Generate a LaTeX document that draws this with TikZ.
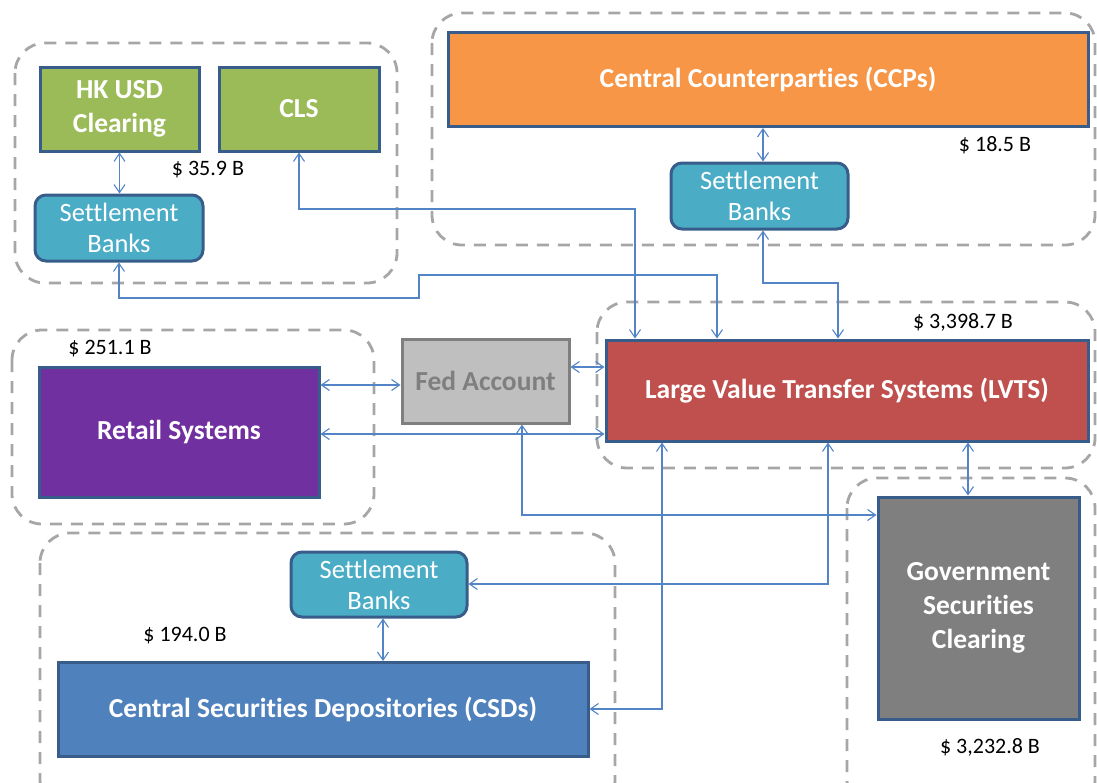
\documentclass[tikz,border=0pt]{standalone}
\usepackage{fontspec}
\setmainfont{Carlito}[Ligatures=NoCommon]
\usetikzlibrary{arrows.meta}
\definecolor{cgreen}{HTML}{9BBB59}
\definecolor{corange}{HTML}{F79646}
\definecolor{cteal}{HTML}{4BACC6}
\definecolor{cred}{HTML}{C0504D}
\definecolor{cpurple}{HTML}{7030A0}
\definecolor{cfed}{HTML}{BFBFBF}
\definecolor{cfedtxt}{HTML}{7F7F7F}
\definecolor{cgov}{HTML}{7F7F7F}
\definecolor{ccsd}{HTML}{4F81BD}
\definecolor{cborder}{HTML}{385D8A}
\definecolor{cconn}{HTML}{5284C6}
\definecolor{cdash}{HTML}{A6A6A6}
\tikzset{
  sysbox/.style={draw=cborder, line width=3pt, text=white, align=center,
    font=\fontsize{27.5}{34}\selectfont\bfseries, inner sep=0pt},
  bankbox/.style={draw=cborder, line width=3pt, fill=cteal, text=white, align=center,
    rounded corners=11pt, font=\fontsize{26.5}{31}\selectfont, inner sep=0pt},
  grp/.style={draw=cdash, line width=2.8pt, dash pattern=on 12pt off 9pt, rounded corners=30pt},
  conn/.style={draw=cconn, line width=1.1pt, {Straight Barb[length=8pt,width=11pt]}-{Straight Barb[length=8pt,width=11pt]}},
  amount/.style={font=\fontsize{22}{26}\selectfont, text=black, inner sep=0pt}
}
\begin{document}
\begin{tikzpicture}[x=1pt,y=-1pt]
\useasboundingbox (0,0) rectangle (1097,782);
% dashed groups
\draw[grp] (15,43) rectangle (397,283);
\draw[grp] (432,13) rectangle (1095,245);
\draw[grp] (597,302) rectangle (1095,468);
\draw[grp] (12,330) rectangle (374,524);
\draw[grp] (40,533) rectangle (615,810);
\draw[grp] (847,478) rectangle (1095,810);
% nodes
\node[sysbox, fill=cgreen, minimum width=159pt, minimum height=84pt] (hk) at (119.5,109) {HK USD\\Clearing};
\node[sysbox, fill=cgreen, minimum width=160pt, minimum height=84pt] (cls) at (299,109) {CLS};
\node[bankbox, minimum width=168pt, minimum height=66pt] (sbtl) at (119,228) {Settlement\\Banks};
\node[sysbox, fill=corange, minimum width=640pt, minimum height=94pt] (ccp) at (768,79.5) {Central Counterparties (CCPs)};
\node[bankbox, minimum width=177pt, minimum height=66pt] (sbtr) at (759.5,196) {Settlement\\Banks};
\node[sysbox, fill=cred, minimum width=482pt, minimum height=101pt] (lvts) at (847,390.5) {Large Value Transfer Systems (LVTS)};
\node[sysbox, fill=cfed, draw=cfedtxt, text=cfedtxt, minimum width=167pt, minimum height=84pt] (fed) at (485.5,381) {Fed Account};
\node[sysbox, fill=cpurple, minimum width=280pt, minimum height=130pt] (retail) at (179,432) {Retail Systems};
\node[sysbox, fill=cgov, minimum width=201pt, minimum height=222pt] (gov) at (978.5,608) {Government\\Securities\\Clearing};
\node[sysbox, fill=ccsd, minimum width=530pt, minimum height=94pt] (csd) at (323,709.5) {Central Securities Depositories (CSDs)};
\node[bankbox, minimum width=176pt, minimum height=65pt] (sbb) at (379,584.5) {Settlement\\Banks};
% amounts
\node[amount] (a1) at (208,170) {\$ 35.9 B};
\node[amount] (a2) at (995,145) {\$ 18.5 B};
\node[amount] (a3) at (963,322) {\$ 3,398.7 B};
\node[amount] (a4) at (110,349) {\$ 251.1 B};
\node[amount] (a5) at (185,636) {\$ 194.0 B};
\node[amount] (a6) at (990,747) {\$ 3,232.8 B};
% helper coordinates
\coordinate (r2) at (635,209);
\coordinate (r3a) at (419,298);
\coordinate (r3b) at (717,275);
\coordinate (x763) at (763,0);
\coordinate (r5) at (838,283);
\coordinate (y385) at (0,385);
\coordinate (y367) at (0,367);
\coordinate (y434) at (0,434);
\coordinate (x522) at (522,0);
\coordinate (y515) at (0,515);
\coordinate (x662) at (662,0);
\coordinate (y709) at (0,709);
\coordinate (x828) at (828,0);
\coordinate (y584) at (0,584);
\coordinate (x968) at (968,0);
\coordinate (x383) at (383,0);
% connectors
\draw[conn] (hk.south) -- (hk.south |- sbtl.north);
\draw[conn] (cls.south) |- (r2) -- (r2 |- lvts.north);
\draw[conn] (sbtl.south) |- (r3a) |- (r3b) -- (r3b |- lvts.north);
\draw[conn] (ccp.south -| x763) -- (sbtr.north -| x763);
\draw[conn] (sbtr.south -| x763) |- (r5) -- (r5 |- lvts.north);
\draw[conn] (retail.east |- y385) -- (fed.west |- y385);
\draw[conn] (fed.east |- y367) -- (lvts.west |- y367);
\draw[conn] (retail.east |- y434) -- (lvts.west |- y434);
\draw[conn] (fed.south -| x522) |- (gov.west |- y515);
\draw[conn] (lvts.south -| x662) |- (csd.east |- y709);
\draw[conn] (lvts.south -| x828) |- (sbb.east |- y584);
\draw[conn] (lvts.south -| x968) -- (gov.north -| x968);
\draw[conn] (sbb.south -| x383) -- (csd.north -| x383);
\end{tikzpicture}
\end{document}
